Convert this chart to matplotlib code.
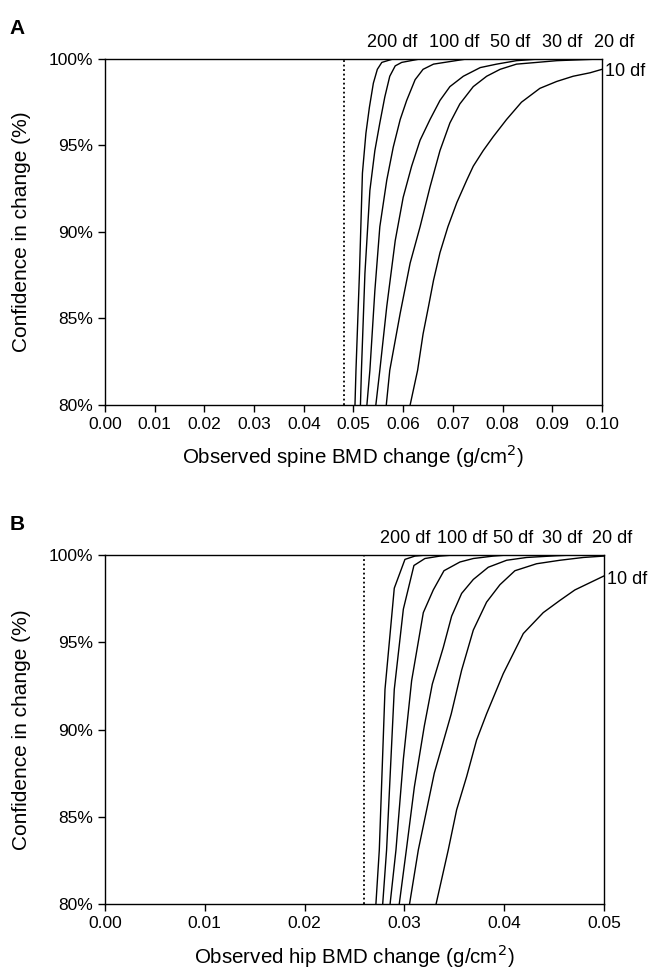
import matplotlib
matplotlib.use('Agg')
import matplotlib.pyplot as plt

plt.rcParams['font.family'] = ['Liberation Sans', 'DejaVu Sans']

# 凡例ラベル (自由度)
df_labels = ['200 df', '100 df', '50 df', '30 df', '20 df', '10 df']

# A: 脊椎 BMD 変化
spine_x = [
    [0.0503, 0.0505, 0.0512, 0.0518, 0.0525, 0.0532, 0.0540, 0.0548, 0.0557, 0.0580, 0.1000],
    [0.0514, 0.0516, 0.0523, 0.0533, 0.0543, 0.0553, 0.0563, 0.0573, 0.0584, 0.0597, 0.0634, 0.1000],
    [0.0527, 0.0533, 0.0543, 0.0553, 0.0567, 0.0580, 0.0594, 0.0607, 0.0624, 0.0640, 0.0661, 0.0728, 0.1000],
    [0.0545, 0.0553, 0.0567, 0.0584, 0.0600, 0.0617, 0.0634, 0.0654, 0.0674, 0.0694, 0.0721, 0.0755,
     0.0788, 0.0828, 0.0875, 0.1000],
    [0.0566, 0.0573, 0.0594, 0.0614, 0.0634, 0.0654, 0.0674, 0.0694, 0.0714, 0.0741, 0.0768, 0.0795,
     0.0828, 0.0869, 0.0909, 0.1000],
    [0.0614, 0.0629, 0.0640, 0.0651, 0.0661, 0.0674, 0.0690, 0.0708, 0.0728, 0.0741, 0.0761, 0.0781,
     0.0808, 0.0838, 0.0875, 0.0909, 0.0942, 0.0976, 0.1000],
]
spine_y = [
    [80, 82.0, 87.6, 93.4, 95.7, 97.2, 98.6, 99.4, 99.8, 100, 100],
    [80, 82.0, 87.6, 92.4, 94.7, 96.3, 97.8, 99.0, 99.6, 99.8, 100, 100],
    [80, 82.0, 86.6, 90.3, 93.0, 94.9, 96.5, 97.6, 98.8, 99.4, 99.7, 100, 100],
    [80, 82.0, 85.7, 89.5, 92.0, 93.8, 95.3, 96.5, 97.6, 98.4, 99.0, 99.5, 99.7, 99.9, 100, 100],
    [80, 82.0, 85.3, 88.2, 90.3, 92.6, 94.7, 96.3, 97.4, 98.4, 99.0, 99.4, 99.7, 99.8, 99.9, 100],
    [80, 82.0, 84.1, 85.7, 87.2, 88.8, 90.3, 91.7, 93.0, 93.8, 94.7, 95.5, 96.5, 97.5, 98.3, 98.7,
     99.0, 99.2, 99.4],
]
spine_lsc = 0.048

# B: 股関節 BMD 変化
hip_x = [
    [0.02715, 0.02749, 0.02806, 0.02899, 0.03006, 0.03106, 0.0322, 0.0500],
    [0.02783, 0.02822, 0.02899, 0.02990, 0.03096, 0.03206, 0.03357, 0.0349, 0.0500],
    [0.02857, 0.02916, 0.02990, 0.03073, 0.03190, 0.03290, 0.03397, 0.03557, 0.03691, 0.03891,
     0.0403, 0.0500],
    [0.02949, 0.03020, 0.03100, 0.03200, 0.03280, 0.03390, 0.03474, 0.03574, 0.03691, 0.03841,
     0.04025, 0.04225, 0.04526, 0.0469, 0.0500],
    [0.03052, 0.03140, 0.03300, 0.03470, 0.03574, 0.03691, 0.03824, 0.03958, 0.04108, 0.04325,
     0.04559, 0.04793, 0.0500],
    [0.03318, 0.03440, 0.03524, 0.03624, 0.03724, 0.03824, 0.03991, 0.04192, 0.04392, 0.04559,
     0.04709, 0.0500],
]
hip_y = [
    [80, 83.1, 92.3, 98.1, 99.75, 99.94, 100, 100],
    [80, 83.1, 92.3, 96.9, 99.4, 99.8, 99.94, 100, 100],
    [80, 83.1, 88.3, 92.8, 96.7, 98.0, 99.1, 99.6, 99.8, 99.94, 100, 100],
    [80, 83.1, 86.7, 90.2, 92.6, 94.7, 96.5, 97.8, 98.6, 99.3, 99.7, 99.86, 99.96, 100, 100],
    [80, 83.1, 87.5, 90.9, 93.4, 95.7, 97.3, 98.3, 99.1, 99.5, 99.7, 99.86, 99.94],
    [80, 83.1, 85.4, 87.3, 89.4, 90.9, 93.2, 95.5, 96.7, 97.4, 98.0, 98.8],
]
hip_lsc = 0.026

# ラベル位置 (x)
spine_label_x = [0.0577, 0.0703, 0.0815, 0.0920, 0.1024]
hip_label_x = [0.0301, 0.0358, 0.0409, 0.0458, 0.0508]

y_ticks = [80, 85, 90, 95, 100]

fig = plt.figure(figsize=(6.48, 9.71), dpi=100)


def draw_panel(rect, xs, ys, lsc, xmax, xticks, xlabel, label_x, ten_y, letter):
    ax = fig.add_axes(rect)
    for x, y in zip(xs, ys):
        ax.plot(x, y, color='black', lw=1.0)
    ax.plot([lsc, lsc], [80, 100], color='black', lw=1.3, ls=(0, (1, 1.5)))
    ax.set_xlim(0, xmax)
    ax.set_ylim(80, 100)
    ax.set_xticks(xticks)
    ax.set_xticklabels([f'{v:.2f}' for v in xticks])
    ax.set_yticks(y_ticks)
    ax.set_yticklabels([f'{v}%' for v in y_ticks])
    ax.tick_params(direction='out', length=5, width=1, labelsize=12.5, colors='black')
    for s in ax.spines.values():
        s.set_linewidth(1.0)
    ax.set_xlabel(xlabel, fontsize=14.8, labelpad=8)
    ax.set_ylabel('Confidence in change (%)', fontsize=15, labelpad=13)
    for lx, t in zip(label_x, df_labels[:5]):
        ax.text(lx, 100.45, t, ha='center', va='bottom', fontsize=13, clip_on=False)
    ax.text(xmax * 1.006, ten_y, df_labels[5], ha='left', va='center', fontsize=13, clip_on=False)
    fig.text(0.015, rect[1] + rect[3] + 0.022, letter, fontsize=15, fontweight='bold', va='bottom')
    return ax


draw_panel([0.162, 0.583, 0.767, 0.3563], spine_x, spine_y, spine_lsc, 0.10,
           [i / 100 for i in range(11)],
           'Observed spine BMD change (g/cm$^2$)', spine_label_x, 99.3, 'A')
draw_panel([0.162, 0.069, 0.770, 0.3594], hip_x, hip_y, hip_lsc, 0.05,
           [i / 100 for i in range(6)],
           'Observed hip BMD change (g/cm$^2$)', hip_label_x, 98.6, 'B')

fig.savefig('out.png', dpi=100)
print('done')
